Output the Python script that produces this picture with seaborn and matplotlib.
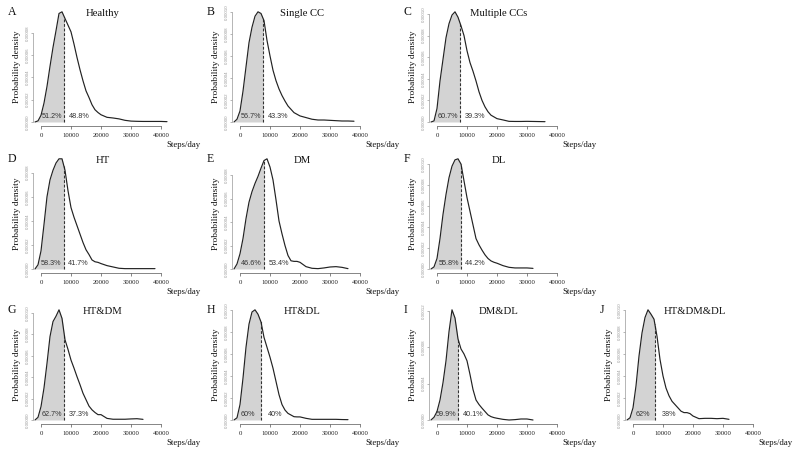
import numpy as np
import pandas as pd
import matplotlib
matplotlib.use("Agg")
import matplotlib.pyplot as plt
import matplotlib.transforms as mtrans
import seaborn as sns

# ---------------- data ----------------
steps = [-2000, -1000, 0, 1000, 2000, 3000, 4000, 5000, 6000, 7000, 8000,
         9000, 10000, 11000, 12000, 13000, 14000, 15000, 16000, 17000, 18000,
         19000, 20000, 22000, 24000, 26000, 28000, 30000, 32000, 34000, 36000,
         38000, 40000, 42000]

letters = ["A", "B", "C", "D", "E", "F", "G", "H", "I", "J"]
titles = ["Healthy", "Single CC", "Multiple CCs", "HT", "DM", "DL",
          "HT&DM", "HT&DL", "DM&DL", "HT&DM&DL"]
cutoffs = [7800, 7800, 7800, 7500, 8000, 8000, 7800, 6900, 7100, 7300]
pct_below = ["51.2%", "56.7%", "60.7%", "58.3%", "46.6%", "55.8%",
             "62.7%", "60%", "59.9%", "62%"]
pct_above = ["48.8%", "43.3%", "39.3%", "41.7%", "53.4%", "44.2%",
             "37.3%", "40%", "40.1%", "38%"]
ytick_step = [2e-5, 2e-5, 2e-5, 2e-5, 2e-5, 2e-5, 2e-5, 2e-5, 4e-5, 2e-5]
nan = np.nan

# density values in units of 1e-5, on the `steps` grid
dens_healthy = [0, 0.1, 0.6, 1.7, 3.2, 5.0, 6.7, 8.2, 9.75, 9.9, 9.3, 8.7, 8.1, 7.0, 5.8, 4.7,
                3.7, 2.8, 2.2, 1.55, 1.1, 0.85, 0.65, 0.42, 0.36, 0.28, 0.15, 0.08, 0.06, 0.05,
                0.05, 0.05, 0.05, 0.03]
dens_single = [0, 0.25, 1.0, 2.8, 5.0, 7.2, 8.6, 9.6, 10.0, 9.85, 9.2, 7.4, 6.0, 4.7, 3.75, 3.0,
               2.4, 1.9, 1.45, 1.15, 0.85, 0.7, 0.55, 0.4, 0.25, 0.18, 0.18, 0.15, 0.12, 0.09,
               0.09, 0.07, nan, nan]
dens_multi = [0, 0.1, 1.25, 3.8, 5.8, 7.8, 9.1, 9.9, 10.2, 9.7, 8.9, 8.0, 6.6, 5.5, 4.7, 3.8,
              2.8, 2.0, 1.4, 0.95, 0.63, 0.47, 0.31, 0.19, 0.06, 0.05, 0.05, 0.06, 0.05, 0.04,
              0.03, nan, nan, nan]
dens_ht = [0, 0.35, 1.5, 3.7, 6.0, 7.4, 8.2, 8.8, 9.15, 9.15, 8.2, 6.5, 5.1, 4.3, 3.6, 2.9,
           2.2, 1.6, 1.2, 0.75, 0.6, 0.55, 0.45, 0.28, 0.17, 0.06, 0.03, 0.03, 0.03, 0.03,
           0.03, 0.03, nan, nan]
dens_dm = [0, 0.43, 1.3, 2.6, 4.3, 5.7, 6.6, 7.3, 7.9, 8.6, 9.25, 9.4, 8.7, 7.6, 5.9, 4.1,
           3.0, 2.0, 1.15, 0.7, 0.65, 0.65, 0.57, 0.2, 0.06, 0.03, 0.09, 0.17, 0.2, 0.14,
           0.03, nan, nan, nan]
dens_dl = [0, 0.2, 1.0, 2.9, 5.2, 7.1, 8.7, 9.8, 10.4, 10.5, 10.0, 8.4, 6.8, 5.5, 4.2, 2.9,
           2.3, 1.8, 1.35, 1.0, 0.77, 0.64, 0.55, 0.32, 0.16, 0.1, 0.1, 0.1, 0.06, nan,
           nan, nan, nan, nan]
dens_htdm = [0, 0.25, 1.25, 3.0, 5.3, 7.8, 9.2, 9.7, 10.3, 9.5, 7.5, 6.6, 5.6, 4.85, 4.05, 3.3,
             2.5, 1.9, 1.3, 0.95, 0.7, 0.5, 0.5, 0.15, 0.07, 0.07, 0.07, 0.1, 0.12, 0.06,
             nan, nan, nan, nan]
dens_htdl = [0, 0.2, 1.4, 3.8, 6.6, 8.7, 9.8, 10.0, 9.6, 8.9, 7.5, 6.6, 5.7, 4.7, 3.5, 2.3,
             1.4, 0.9, 0.6, 0.45, 0.3, 0.28, 0.28, 0.15, 0.06, 0.06, 0.06, 0.06, 0.06, 0.04,
             0.03, nan, nan, nan]
dens_dmdl = [0, 0.3, 0.93, 2.2, 4.1, 6.5, 9.7, 12.1, 11.2, 8.9, 7.8, 7.25, 6.5, 5.0, 3.35, 2.2,
             1.7, 1.3, 0.93, 0.56, 0.37, 0.26, 0.19, 0.07, 0.0, 0.04, 0.11, 0.11, 0.0, nan,
             nan, nan, nan, nan]
dens_all3 = [0, 0.2, 1.1, 3.1, 5.8, 7.9, 9.3, 10.0, 9.6, 9.15, 7.6, 5.5, 4.0, 2.9, 2.2, 1.7,
             1.4, 1.1, 0.8, 0.67, 0.67, 0.58, 0.36, 0.12, 0.15, 0.15, 0.12, 0.15, 0.06, nan,
             nan, nan, nan, nan]
densities = [dens_healthy, dens_single, dens_multi, dens_ht, dens_dm, dens_dl,
             dens_htdm, dens_htdl, dens_dmdl, dens_all3]
xticks = [0, 10000, 20000, 30000, 40000]

# ---------------- style / layout ----------------
sns.set_theme(style="ticks")
serif = ["Liberation Serif", "DejaVu Serif"]
sans = ["Liberation Sans", "DejaVu Sans"]
plt.rcParams["font.family"] = serif

W, H = 798, 455
fig = plt.figure(figsize=(W / 100, H / 100), dpi=100)
col_px = [33, 232, 429, 625]
row_bottom_px = [126.4, 273.4, 424.4]
ax_w, ax_h = 140, 119
layout = [(0, 0), (0, 1), (0, 2), (1, 0), (1, 1), (1, 2),
          (2, 0), (2, 1), (2, 2), (2, 3)]
px_per_k = 3.0
x_left = -8 / px_per_k * 1000
x_right = x_left + ax_w / px_per_k * 1000
axis_col = "#555555"

for i, (r, c) in enumerate(layout):
    left, bottom = col_px[c], row_bottom_px[r]
    ax = fig.add_axes([left / W, (H - bottom) / H, ax_w / W, ax_h / H])
    ax.set_facecolor("none")
    df = pd.DataFrame({"steps": steps,
                       "density": np.array(densities[i], float) * 1e-5}).dropna()
    ymax = df["density"].max()

    poly = ax.fill_between(df["steps"], 0, df["density"], color="#d3d3d3",
                           lw=0, zorder=1)
    clip = plt.Rectangle((-1e6, -1), 1e6 + cutoffs[i], 2, transform=ax.transData)
    poly.set_clip_path(clip)
    sns.lineplot(data=df, x="steps", y="density", ax=ax, color="#222222",
                 lw=0.85, estimator=None, zorder=3)
    h = np.interp(cutoffs[i], df["steps"], df["density"])
    ax.vlines(cutoffs[i], 0, h, colors="#333333", linestyles=(0, (2.5, 1.6)),
              lw=0.8, zorder=2)

    ax.set_xlim(x_left, x_right)
    ax.set_ylim(-0.04 * ymax, 1.04 * ymax)
    yt = np.arange(0, ymax + 1e-12, ytick_step[i])
    ax.set_xticks(xticks)
    ax.set_xticklabels([str(v) for v in xticks], fontsize=4.9, family=serif,
                       color="#222222")
    ax.set_yticks(yt)
    ax.set_yticklabels(["%.5f" % v for v in yt], fontsize=3.2, family=sans,
                       color="#999999", rotation=90, va="center")
    ax.tick_params(axis="x", length=2, width=0.5, pad=3.0, color=axis_col)
    ax.tick_params(axis="y", length=1.8, width=0.5, pad=0.6, color="#999999")
    ax.set_xlabel("")
    ax.set_ylabel("")
    for s in ["top", "right"]:
        ax.spines[s].set_visible(False)
    ax.spines["bottom"].set_bounds(0, 40000)
    ax.spines["left"].set_bounds(0, yt[-1])
    ax.spines["bottom"].set_color(axis_col)
    ax.spines["left"].set_color("#999999")
    ax.spines["bottom"].set_linewidth(0.5)
    ax.spines["left"].set_linewidth(0.5)

    # percentages
    bt = mtrans.blended_transform_factory(ax.transData, ax.transAxes)
    ax.text(cutoffs[i], 0.079, pct_below[i], fontsize=5.2, family=sans,
            color="#333333", ha="center", va="center",
            transform=mtrans.offset_copy(bt, fig, x=-12.5, y=0, units="dots"),
            zorder=4)
    ax.text(cutoffs[i], 0.079, pct_above[i], fontsize=5.2, family=sans,
            color="#333333", ha="center", va="center",
            transform=mtrans.offset_copy(bt, fig, x=14.5, y=0, units="dots"),
            zorder=4)

    # title, panel letter, axis labels
    ax.text(0.5, 0.95, titles[i], transform=ax.transAxes, ha="center",
            va="center", fontsize=7.7, family=serif, color="#111111")
    fig.text((left - 25) / W, (H - (bottom - ax_h + 4.6)) / H, letters[i],
             ha="left", va="center", fontsize=8.5, family=serif, color="#111111")
    ax.text(0, 0.5, "Probability density", rotation=90, ha="center",
            va="center", fontsize=6.8, family=serif, color="#111111",
            transform=mtrans.offset_copy(ax.transAxes, fig, x=-16, y=0,
                                         units="dots"))
    ax.text(47500, 0, "Steps/day", ha="center", va="center", fontsize=6.3,
            family=serif, color="#111111", clip_on=False,
            transform=mtrans.offset_copy(bt, fig, x=0, y=-18.5, units="dots"))

fig.savefig("out.png", dpi=100)
